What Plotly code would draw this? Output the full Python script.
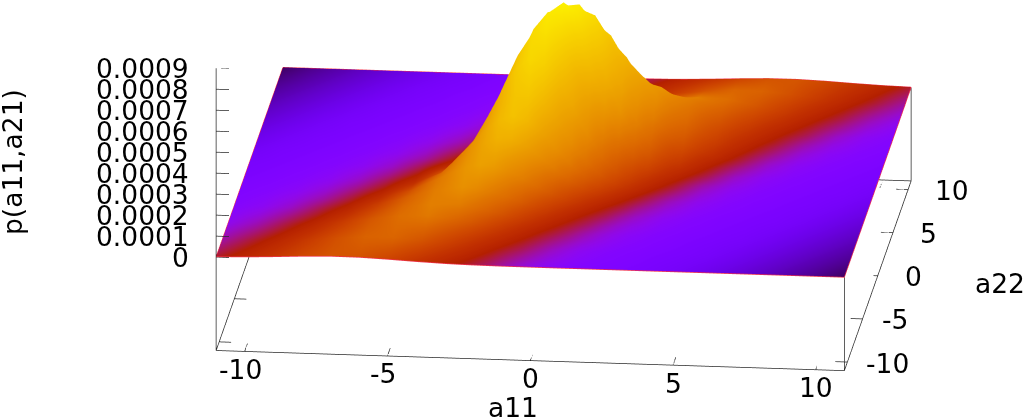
import math
import numpy as np
import plotly.graph_objects as go

A11 = [-11,-10,-9,-8,-7,-6,-5,-4,-3,-2.5,-2,-1.5,-1,-.5,0,.5,1,1.5,2,2.5,3,4,5,6,7,8,9,10,11]
A22_LOWER = [-11,-9,-7,-6,-5,-4,-3,-2.5,-2,-1.5,-1,-.5,0]
X_TICKS = [-10, -5, 0, 5, 10]
Y_TICKS = [-10, -5, 0, 5, 10]
Z_TICKS = [0, 0.0001, 0.0002, 0.0003, 0.0004, 0.0005, 0.0006, 0.0007, 0.0008, 0.0009]
Z_LABELS = ["0", "0.0001", "0.0002", "0.0003", "0.0004", "0.0005", "0.0006", "0.0007", "0.0008", "0.0009"]

# heights, in 1e-5 units (the lower half, a22 <= 0)
P_K11 = [.2,.52,1.07,1.72,2.16,2.1,1.6,.95,.44,.27,.16,.09,.04,.02,.01,0,0,0,0,0,0,0,0,0,0,0,0,0,0]
P_K9 = [.05,.22,.71,1.7,3.1,4.3,4.4,3.4,2,1.35,.86,.51,.28,.14,.07,.03,.01,0,0,0,0,0,0,0,0,0,0,0,0]
P_K7 = [.01,.07,.33,1.15,2.9,5.7,8.2,8.9,7.3,6,4.5,3.2,2.1,1.27,.72,.38,.19,.09,.04,.01,0,0,0,0,0,0,0,0,0]
P_K6 = [0,.02,.13,.61,2,5.1,9.2,12.2,11.8,10.4,8.4,6.3,4.4,2.8,1.65,.9,.46,.22,.09,.04,.01,0,0,0,0,0,0,0,0]
P_K5 = [0,.01,.04,.28,1.25,4,9.2,15.2,18,17.3,15.2,12.4,9.2,6.4,4,2.3,1.25,.61,.28,.12,.04,.01,0,0,0,0,0,0,0]
P_K4 = [0,0,.01,.06,.44,2.2,7.1,15.9,24.3,26,25.2,22.3,17.8,13,8.6,5.1,2.8,1.4,.62,.26,.1,.01,0,0,0,0,0,0,0]
P_K3 = [0,0,0,.01,.1,.78,3.9,12.6,26.3,32.4,35.7,35.3,31.3,24.9,17.8,11.4,6.6,3.4,1.6,.65,.24,.03,0,0,0,0,0,0,0]
P_K25 = [0,0,0,0,.04,.4,2.5,10.3,26.1,34.9,41.5,44,41.5,34.9,26.1,17.4,10.3,5.4,2.5,1.07,.4,.04,0,0,0,0,0,0,0]
P_K2 = [0,0,0,0,.01,.17,1.4,7.5,23.6,34.7,45.2,51.8,52.5,46.9,37,25.8,15.8,8.6,4.1,1.7,.64,.06,0,0,0,0,0,0,0]
P_K15 = [0,0,0,0,.01,.1,.96,5.8,21.2,33.7,47.3,58.5,63.8,61.5,52.3,39.2,26,15.2,7.8,3.6,1.4,.16,.01,0,0,0,0,0,0]
P_K1 = [0,0,0,0,0,.05,.59,4.1,17.5,30,45.4,60.4,71.1,73.8,67.6,54.7,39,24.6,13.7,6.7,2.9,.37,.03,0,0,0,0,0,0]
P_K05 = [0,0,0,0,0,.02,.32,2.6,12.8,23.5,38.4,55.1,69.9,78.2,77.3,67.3,51.7,35.1,21.1,11.1,5.2,.77,.07,0,0,0,0,0,0]
P_K0 = [0,0,0,0,0,.01,.16,1.5,8.5,17,29.8,46.2,63.1,76.1,81,76.1,63.1,46.2,29.8,17,8.5,1.5,.16,.01,0,0,0,0,0]
P_UNIT = 1e-5
# the near side of the ridge reads lower than the far side
NEAR_GAIN = [1, .85, .7, .65, .68, .72, .78, .83, .88, .94, .98, 1, 1]
FAR_GAIN = [1, 1, 1, 1.05, 1.05, 1.05, 1.05, 1.05, 1.05, 1.02, 1, 1]

# palette position seen on the surface at the same grid points
C_K11 = [.476,.536,.596,.654,.692,.686,.644,.584,.524,.494,.464,.432,.392,.354,.324,.297,.282,.268,.258,.249,.244,.234,.218,.195,.17,.145,.12,.095,.065]
C_K9 = [.392,.467,.535,.607,.676,.724,.731,.688,.621,.585,.549,.514,.48,.448,.408,.368,.336,.306,.288,.273,.262,.246,.236,.222,.2,.175,.15,.125,.10]
C_K7 = [.312,.376,.457,.53,.613,.694,.752,.776,.732,.702,.663,.621,.579,.538,.5,.464,.426,.384,.348,.318,.294,.266,.248,.238,.226,.205,.18,.155,.13]
C_K6 = [.288,.336,.41,.487,.569,.659,.739,.79,.782,.755,.725,.686,.641,.596,.551,.51,.473,.436,.392,.354,.324,.282,.258,.244,.234,.218,.195,.17,.145]
C_K5 = [.27,.30,.36,.446,.522,.616,.714,.783,.825,.811,.783,.754,.714,.665,.616,.567,.522,.482,.446,.40,.36,.30,.27,.25,.24,.23,.21,.185,.16]
C_K4 = [.258,.282,.324,.392,.478,.566,.672,.77,.835,.853,.844,.815,.786,.745,.694,.64,.587,.537,.493,.455,.408,.336,.288,.262,.246,.236,.222,.2,.175]
C_K3 = [.248,.266,.294,.348,.43,.517,.622,.739,.827,.861,.884,.88,.855,.821,.78,.727,.669,.61,.556,.507,.465,.376,.312,.276,.254,.242,.232,.214,.19]
C_K25 = [.245,.26,.285,.33,.404,.491,.593,.716,.824,.859,.894,.91,.894,.859,.824,.778,.716,.655,.593,.538,.491,.404,.33,.285,.26,.245,.235,.22,.197]
C_K2 = [.242,.254,.276,.312,.378,.468,.564,.687,.808,.851,.887,.915,.919,.894,.858,.818,.763,.7,.636,.574,.522,.432,.348,.294,.266,.248,.238,.226,.205]
C_K15 = [.239,.249,.268,.297,.354,.442,.533,.657,.79,.842,.884,.921,.943,.932,.897,.862,.815,.75,.684,.617,.555,.461,.368,.306,.273,.252,.241,.231,.212]
C_K1 = [.236,.246,.262,.288,.336,.413,.505,.622,.76,.826,.875,.911,.947,.958,.936,.897,.855,.801,.732,.663,.594,.487,.392,.324,.282,.258,.244,.234,.218]
C_K05 = [.233,.243,.256,.279,.318,.387,.48,.587,.727,.798,.858,.901,.941,.968,.964,.934,.895,.847,.784,.712,.641,.518,.424,.342,.291,.264,.247,.237,.224]
C_K0 = [.23,.24,.25,.27,.30,.36,.454,.55,.686,.758,.83,.882,.922,.962,.98,.962,.922,.882,.83,.758,.686,.55,.454,.36,.30,.27,.25,.24,.23]

lower_p = [P_K11, P_K9, P_K7, P_K6, P_K5, P_K4, P_K3, P_K25, P_K2, P_K15, P_K1, P_K05, P_K0]
lower_c = [C_K11, C_K9, C_K7, C_K6, C_K5, C_K4, C_K3, C_K25, C_K2, C_K15, C_K1, C_K05, C_K0]
a22 = A22_LOWER + [-v for v in A22_LOWER[-2::-1]]
near = [[v * g for v in r] for r, g in zip(lower_p, NEAR_GAIN)]
far = [[v * g for v in r[::-1]] for r, g in zip(lower_p[-2::-1], FAR_GAIN[::-1] if False else FAR_GAIN[::-1])]
p = np.array(near + far) * P_UNIT
c = np.array(lower_c + [r[::-1] for r in lower_c[-2::-1]])
a11 = np.array(A11)
a22 = np.array(a22)

stops = []
for i in range(65):
    t = i / 64
    r_ = math.sqrt(t)
    g_ = t ** 3
    b_ = max(0.0, math.sin(2 * math.pi * t))
    stops.append([t, f"rgb({round(r_*255)},{round(g_*255)},{round(b_*255)})"])

XMIN, XMAX = -11, 11
YMIN, YMAX = -11, 11
ZFLOOR, ZTOP = -0.000445, 0.0009
FRAME = "#2a2a2a"
EDGE = "#f0304a"

fig = go.Figure()
fig.add_surface(x=a11, y=a22, z=p, surfacecolor=c, cmin=0, cmax=1, colorscale=stops,
                showscale=False, hoverinfo="skip",
                lighting=dict(ambient=1, diffuse=0, specular=0, roughness=1, fresnel=0))

# surface border
bx = list(a11) + [XMAX] * len(a22) + list(a11[::-1]) + [XMIN] * len(a22)
by = [YMIN] * len(a11) + list(a22) + [YMAX] * len(a11) + list(a22[::-1])
bz = list(p[0]) + list(p[:, -1]) + list(p[-1][::-1]) + list(p[::-1, 0])
fig.add_scatter3d(x=bx, y=by, z=bz, mode="lines", line=dict(color=EDGE, width=1.5),
                  hoverinfo="skip", showlegend=False)

# frame: floor and vertical posts
fx = [XMIN, XMAX, XMAX, XMIN, XMIN, None, XMIN, XMIN, None, XMAX, XMAX, None, XMAX, XMAX]
fy = [YMIN, YMIN, YMAX, YMAX, YMIN, None, YMIN, YMIN, None, YMIN, YMIN, None, YMAX, YMAX]
fz = [ZFLOOR] * 5 + [None, ZFLOOR, ZTOP, None, ZFLOOR, 0, None, ZFLOOR, 0]
fig.add_scatter3d(x=fx, y=fy, z=fz, mode="lines", line=dict(color=FRAME, width=1.5),
                  hoverinfo="skip", showlegend=False)

# tick marks, mirrored on the opposite floor edges
tx, ty, tz = [], [], []
for v in X_TICKS:
    tx += [v, v, None, v, v, None]
    ty += [YMIN, YMIN + 0.9, None, YMAX, YMAX - 0.9, None]
    tz += [ZFLOOR, ZFLOOR, None, ZFLOOR, ZFLOOR, None]
for v in Y_TICKS:
    tx += [XMAX, XMAX - 0.42, None, XMIN, XMIN + 0.42, None]
    ty += [v, v, None, v, v, None]
    tz += [ZFLOOR, ZFLOOR, None, ZFLOOR, ZFLOOR, None]
for v in Z_TICKS:
    tx += [XMIN, XMIN + 0.45, None]; ty += [YMIN, YMIN, None]; tz += [v, v, None]
fig.add_scatter3d(x=tx, y=ty, z=tz, mode="lines", line=dict(color=FRAME, width=1.5),
                  hoverinfo="skip", showlegend=False)

LABEL = dict(family="DejaVu Sans", size=26.5, color="black")
ann = []
for v, s in zip(Z_TICKS, Z_LABELS):
    ann.append(dict(x=XMIN, y=YMIN, z=v, text=s, showarrow=False, xanchor="right", yanchor="middle",
                    xshift=-25, font=LABEL))
for v in X_TICKS:
    ann.append(dict(x=v, y=YMIN, z=ZFLOOR, text=str(v), showarrow=False, xanchor="center", yanchor="middle",
                    xshift=-4 if v < 0 else 0, yshift=-18, font=LABEL))
for v in Y_TICKS:
    ann.append(dict(x=XMAX, y=v, z=ZFLOOR, text=str(v), showarrow=False, xanchor="left", yanchor="middle",
                    xshift=25 if v >= 0 else 17, yshift=-1, font=LABEL))

el, az = math.radians(17.58), math.radians(6.07)
DIST = 2.0
CX, CY, CZ = -0.2463, -0.0259, -0.4223
fig.update_layout(
    width=1024, height=417, margin=dict(l=0, r=0, t=0, b=0), paper_bgcolor="white", showlegend=False,
    scene=dict(
        domain=dict(x=[0, 1], y=[0, 1]),
        xaxis=dict(range=[XMIN, XMAX], visible=False),
        yaxis=dict(range=[YMIN, YMAX], visible=False),
        zaxis=dict(range=[ZFLOOR, ZTOP], visible=False),
        aspectmode="manual", aspectratio=dict(x=3.03, y=3.03, z=1.42),
        camera=dict(projection=dict(type="orthographic"), up=dict(x=0, y=0, z=1),
                    center=dict(x=CX, y=CY, z=CZ),
                    eye=dict(x=CX + DIST * math.sin(az) * math.cos(el), y=CY - DIST * math.cos(az) * math.cos(el), z=CZ + DIST * math.sin(el))),
        annotations=ann,
    ),
    annotations=[
        dict(text="a11", x=513 / 1024, y=1 - 407 / 417, xref="paper", yref="paper", showarrow=False, font=LABEL, xanchor="center", yanchor="middle"),
        dict(text="a22", x=1000 / 1024, y=1 - 283 / 417, xref="paper", yref="paper", showarrow=False, font=LABEL, xanchor="center", yanchor="middle"),
        dict(text="p(a11,a21)", x=12 / 1024, y=1 - 162 / 417, xref="paper", yref="paper", showarrow=False, textangle=-90, font=LABEL, xanchor="center", yanchor="middle"),
    ],
)
fig.write_html("out.html", config=dict(displayModeBar=False), post_script="document.body.style.margin='0';")
